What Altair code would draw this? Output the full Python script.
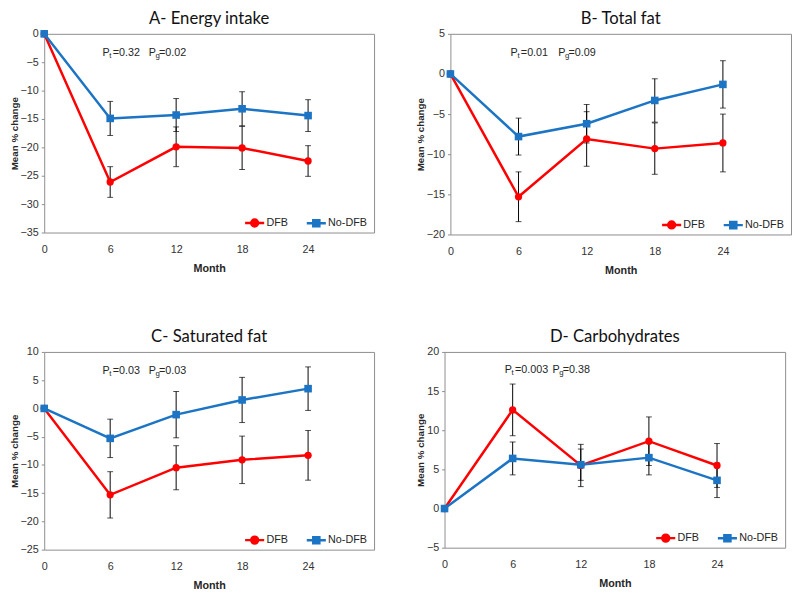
import altair as alt
import pandas as pd

months = [0, 6, 12, 18, 24]
groups = ["DFB", "No-DFB"]

a_dfb = [0, -26.1, -19.9, -20.1, -22.4]
a_dfb_err = [0, 2.7, 3.5, 3.8, 2.7]
a_no = [0, -14.9, -14.3, -13.2, -14.4]
a_no_err = [0, 3.0, 2.9, 3.0, 2.8]

b_dfb = [0, -15.3, -8.1, -9.3, -8.6]
b_dfb_err = [0, 3.1, 3.4, 3.2, 3.6]
b_no = [0, -7.8, -6.2, -3.3, -1.3]
b_no_err = [0, 2.3, 2.4, 2.7, 2.95]

c_dfb = [0, -15.3, -10.5, -9.1, -8.3]
c_dfb_err = [0, 4.1, 3.9, 4.2, 4.4]
c_no = [0, -5.3, -1.1, 1.5, 3.5]
c_no_err = [0, 3.4, 4.1, 4.0, 3.85]

d_dfb = [0, 12.6, 5.5, 8.6, 5.5]
d_dfb_err = [0, 3.3, 2.7, 3.1, 2.8]
d_no = [0, 6.4, 5.6, 6.5, 3.6]
d_no_err = [0, 2.1, 2.0, 2.2, 2.2]

titles = ["A- Energy intake", "B- Total fat", "C- Saturated fat", "D- Carbohydrates"]
y_ranges = [(-35, 0), (-20, 5), (-25, 10), (-5, 20)]
p_t = ["0.32", "0.01", "0.03", "0.003"]
p_g = ["0.02", "0.09", "0.03", "0.38"]

RED = "#FF0000"
BLUE = "#1C74C4"
LABEL_FONT = "Liberation Sans"

legend_paths = [
    "M-1,0L1,0M0.36,0A0.36,0.36,0,1,1,-0.36,0A0.36,0.36,0,1,1,0.36,0Z",
    "M-1,0L1,0M-0.32,-0.32L0.32,-0.32L0.32,0.32L-0.32,0.32Z",
]


def make_df(dfb, dfb_err, no, no_err):
    rows = []
    for g, vals, errs in [("DFB", dfb, dfb_err), ("No-DFB", no, no_err)]:
        for m, v, e in zip(months, vals, errs):
            rows.append({"month": m, "value": v, "err": e, "lo": v - e, "hi": v + e, "group": g})
    return pd.DataFrame(rows)


def panel(title, df, yr, pt, pg, width, height):
    ymin, ymax = yr
    span = ymax - ymin
    xscale = alt.Scale(domain=[0, 30], nice=False)
    yscale = alt.Scale(domain=[ymin, ymax], nice=False, zero=False)
    xaxis = alt.Axis(values=months, title="Month", tickSize=0, labelPadding=11,
                     titlePadding=9, domain=False, grid=False, labelOverlap=False,
                     labelFlush=False)
    yaxis = alt.Axis(values=list(range(ymin, ymax + 1, 5)), title="Mean % change",
                     tickSize=3, labelPadding=3, titlePadding=1, domain=False, grid=False,
                     labelOverlap=False, labelFlush=False, labelBound=False)
    xenc = alt.X("month:Q", scale=xscale, axis=xaxis)
    yenc = alt.Y("value:Q", scale=yscale, axis=yaxis)
    col = alt.Color("group:N", scale=alt.Scale(domain=groups, range=[RED, BLUE]), legend=None)
    base = alt.Chart(df)
    lines = base.mark_line(strokeWidth=2.5).encode(x=xenc, y=yenc, color=col)
    ebdf = base.transform_filter("datum.err > 0")
    rules = ebdf.mark_rule(color="black", strokeWidth=1).encode(
        x=xenc, y=alt.Y("lo:Q", scale=yscale, axis=yaxis), y2="hi:Q")
    cap_lo = ebdf.mark_tick(color="black", orient="horizontal", size=6, thickness=1).encode(
        x=xenc, y=alt.Y("lo:Q", scale=yscale, axis=yaxis))
    cap_hi = ebdf.mark_tick(color="black", orient="horizontal", size=6, thickness=1).encode(
        x=xenc, y=alt.Y("hi:Q", scale=yscale, axis=yaxis))
    pts_dfb = base.transform_filter(alt.datum.group == "DFB").mark_point(
        filled=True, size=55, opacity=1, shape="circle").encode(x=xenc, y=yenc, color=col)
    pts_no = base.transform_filter(alt.datum.group == "No-DFB").mark_point(
        filled=True, size=60, opacity=1, shape="square").encode(x=xenc, y=yenc, color=col)
    legend_def = alt.Legend(title=None, orient="none", legendX=width - 133, legendY=height - 21,
                            direction="horizontal", padding=0, symbolSize=380,
                            symbolStrokeWidth=2.5, symbolOpacity=1, labelFontSize=11,
                            labelFont=LABEL_FONT, labelColor="#262626", columnPadding=14,
                            labelOffset=1)
    leg = base.transform_calculate(Group="datum.group").mark_point(
        filled=True, opacity=0, strokeWidth=2.5).encode(
        x=xenc, y=yenc,
        fill=alt.Fill("Group:N", scale=alt.Scale(range=[RED, BLUE]), legend=legend_def),
        stroke=alt.Stroke("Group:N", scale=alt.Scale(range=[RED, BLUE]), legend=legend_def),
        shape=alt.Shape("Group:N", scale=alt.Scale(range=legend_paths), legend=legend_def),
    )
    ay = ymax - span * 0.095
    ann = pd.DataFrame({"month": [5.3, 9.5], "value": [ay, ay], "sub": ["t", "g"],
                        "rest": ["=" + pt, "=" + pg]})
    ab = alt.Chart(ann)
    txt_p = ab.mark_text(align="left", baseline="middle", fontSize=11, font=LABEL_FONT,
                         color="#262626").encode(x=xenc, y=yenc, text=alt.value("P"))
    txt_s = ab.mark_text(align="left", baseline="middle", fontSize=8, font=LABEL_FONT,
                         color="#262626", dx=7, dy=3).encode(x=xenc, y=yenc, text="sub:N")
    txt_r = ab.mark_text(align="left", baseline="middle", fontSize=11, font=LABEL_FONT,
                         color="#262626", dx=10.5).encode(x=xenc, y=yenc, text="rest:N")
    return alt.layer(lines, rules, cap_lo, cap_hi, pts_dfb, pts_no, leg, txt_p, txt_s, txt_r).properties(
        width=width, height=height,
        title=alt.TitleParams(title, fontSize=17, font="Lato", fontWeight="normal", color="#111111",
                              anchor="middle", frame="group", offset=0),
    )


pa = panel(titles[0], make_df(a_dfb, a_dfb_err, a_no, a_no_err), y_ranges[0], p_t[0], p_g[0], 337, 203)
pb = panel(titles[1], make_df(b_dfb, b_dfb_err, b_no, b_no_err), y_ranges[1], p_t[1], p_g[1], 348, 205)
pc = panel(titles[2], make_df(c_dfb, c_dfb_err, c_no, c_no_err), y_ranges[2], p_t[2], p_g[2], 337, 202)
pd_ = panel(titles[3], make_df(d_dfb, d_dfb_err, d_no, d_no_err), y_ranges[3], p_t[3], p_g[3], 348, 200)

res = dict(color="independent", fill="independent", stroke="independent", shape="independent")
top = alt.hconcat(pa, pb, spacing=40).resolve_scale(**res)
bottom = alt.hconcat(pc, pd_, spacing=40).resolve_scale(**res)
chart = alt.vconcat(top, bottom, spacing=52).resolve_scale(**res).properties(
    padding={"left": 0, "top": -5, "right": 0, "bottom": 0}
).configure_view(
    stroke="#8c8c8c", strokeWidth=1
).configure_axis(
    labelFont=LABEL_FONT, labelFontSize=11, labelColor="#333333",
    titleFont=LABEL_FONT, titleFontSize=10, titleFontWeight="bold", titleColor="#262626",
    tickColor="#8c8c8c", labelOverlap=False,
).configure_axisX(titleFontSize=11)

chart.save("out.html", embed_options={"renderer": "svg", "actions": False})
